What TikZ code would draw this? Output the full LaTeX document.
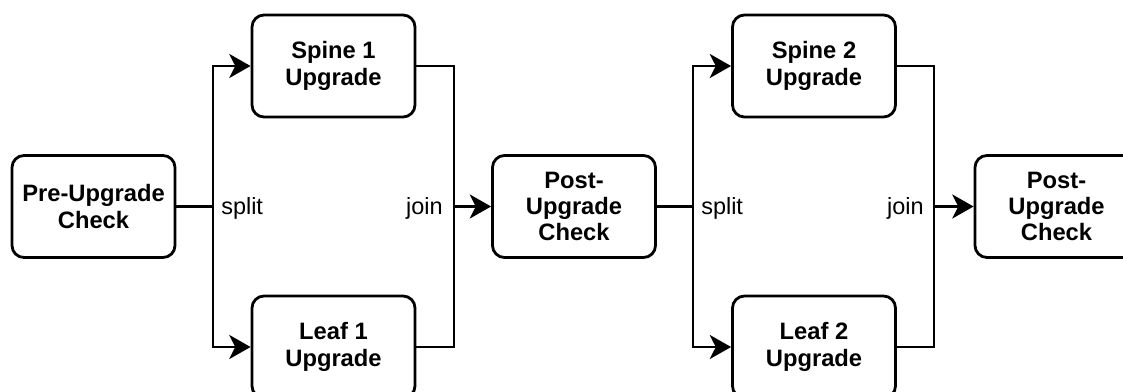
\documentclass[tikz,border=0pt]{standalone}
\usepackage{fontspec}
\setmainfont{Liberation Sans}
\usetikzlibrary{arrows.meta}
\tikzset{
  box/.style={draw=black, line width=2.1pt, rounded corners=9pt, fill=white,
    minimum width=122.25pt, minimum height=76.5pt, align=center, inner sep=0pt,
    font=\fontsize{17.8pt}{19.8pt}\selectfont\bfseries},
  conn/.style={draw=black, line width=2.1pt},
  arr/.style={conn, -{Stealth[length=16pt, width=18pt, inset=4.5pt]}},
  lbl/.style={inner sep=0pt, font=\fontsize{17.6pt}{19.8pt}\selectfont}
}
\begin{document}
\begin{tikzpicture}[x=0.75pt, y=-0.75pt]
\useasboundingbox (0,0) rectangle (1123,392);
\clip (0,0) rectangle (1123,392);
\node[box] (pre) at (93.5,206.5) {Pre-Upgrade\\Check};
\node[box] (spine1) at (333.5,66) {Spine 1\\Upgrade};
\node[box] (leaf1) at (333.5,347) {Leaf 1\\Upgrade};
\node[box] (post1) at (574,206.5) {Post-\\Upgrade\\Check};
\node[box] (spine2) at (814,66) {Spine 2\\Upgrade};
\node[box] (leaf2) at (814,347) {Leaf 2\\Upgrade};
\node[box] (post2) at (1056.5,206.5) {Post-\\Upgrade\\Check};
\coordinate (s1) at (213,206.5);
\coordinate (j1) at (454,206.5);
\coordinate (s2) at (693,206.5);
\coordinate (j2) at (934,206.5);
\draw[conn] (pre.east) -- (s1);
\draw[arr] (s1) |- (spine1.west);
\draw[arr] (s1) |- (leaf1.west);
\draw[conn] (spine1.east) -| (j1);
\draw[conn] (leaf1.east) -| (j1);
\draw[arr] (j1) -- (post1.west);
\draw[conn] (post1.east) -- (s2);
\draw[arr] (s2) |- (spine2.west);
\draw[arr] (s2) |- (leaf2.west);
\draw[conn] (spine2.east) -| (j2);
\draw[conn] (leaf2.east) -| (j2);
\draw[arr] (j2) -- (post2.west);
\node[lbl, anchor=west] (ls1) at (221,208) {split};
\node[lbl, anchor=east] (lj1) at (443,208) {join};
\node[lbl, anchor=west] (ls2) at (701,208) {split};
\node[lbl, anchor=east] (lj2) at (924,208) {join};
\end{tikzpicture}
\end{document}
